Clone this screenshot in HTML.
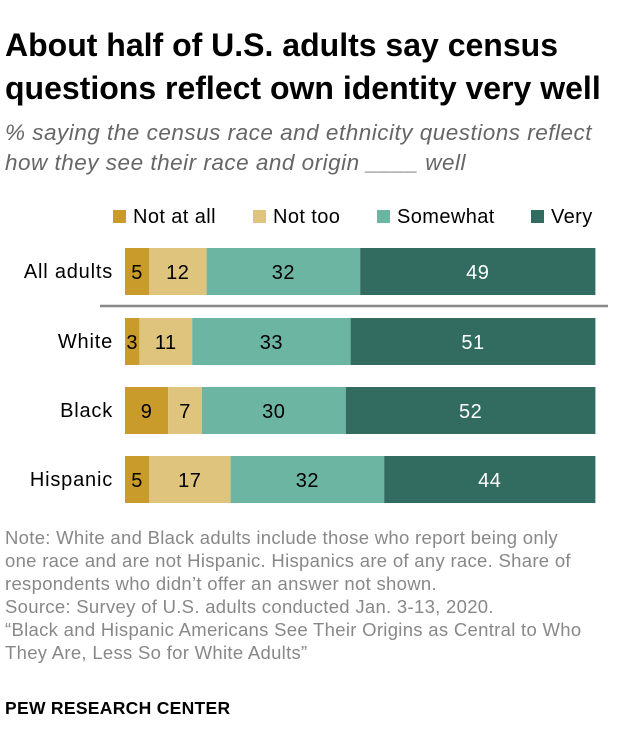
<!DOCTYPE html>
<html><head><meta charset="utf-8"><style>
body{margin:0;background:#fff;width:620px;height:756px;overflow:hidden;font-family:"Liberation Sans",sans-serif;position:relative}
.t{position:absolute;white-space:nowrap}
</style></head><body>
<div class="t" style="left:5px;top:24px;font-size:32px;font-weight:bold;line-height:43px;color:#000;letter-spacing:0px">About half of U.S. adults say census<br>questions reflect own identity very well</div>
<div class="t" style="left:5px;top:118px;font-size:22.5px;font-style:italic;line-height:30px;color:#666;letter-spacing:0.5px">% saying the census race and ethnicity questions reflect<br>how they see their race and origin ____ well</div>
<svg id="c" width="620" height="520" style="position:absolute;left:0;top:195px"></svg>
<div class="t" style="left:5px;top:526px;font-size:18.5px;letter-spacing:0.3px;line-height:23px;color:#888">Note: White and Black adults include those who report being only<br>one race and are not Hispanic. Hispanics are of any race. Share of<br>respondents who didn’t offer an answer not shown.<br>Source: Survey of U.S. adults conducted Jan. 3-13, 2020.<br>“Black and Hispanic Americans See Their Origins as Central to Who<br>They Are, Less So for White Adults”</div>
<div class="t" style="left:5px;top:698px;font-size:17.5px;letter-spacing:0.3px;font-weight:bold;color:#000">PEW RESEARCH CENTER</div>
<script>
const categories=["All adults","White","Black","Hispanic"];
const seriesNames=["Not at all","Not too","Somewhat","Very"];
const notAtAll=[5,3,9,5];
const notToo=[12,11,7,17];
const somewhat=[32,33,30,32];
const very=[49,51,52,44];
const colors=["#c99b2a","#dfc47d","#6bb5a2","#326b5f"];
const series=[notAtAll,notToo,somewhat,very];
const NS="http://www.w3.org/2000/svg";
const svg=document.getElementById('c');
const x0=125,k=4.8;
const xs=v=>v*k;
const rowY=[53,123,192,261];
function mk(t,a){const e=document.createElementNS(NS,t);for(const q in a)e.setAttribute(q,a[q]);svg.appendChild(e);return e;}
const legX=[113,253,377,531];
seriesNames.forEach((n,i)=>{
 const r=mk('rect',{x:legX[i],y:15,width:13,height:13,fill:colors[i]});
 
 
 const t=mk('text',{x:legX[i]+20,y:28,'font-size':20,'letter-spacing':0.4,fill:'#000'});t.textContent=n;
 
 
});
categories.forEach((c,r)=>{
 const y=rowY[r];
 const l=mk('text',{x:113,y:y+30,'font-size':20,'letter-spacing':0.8,'text-anchor':'end',fill:'#000'});l.textContent=c;
 
 
 let cx=x0;
 series.forEach((s,i)=>{
  const w=xs(s[r]);
  const b=mk('rect',{x:cx,y:y,width:w,height:47,fill:colors[i]});
  
  
  const t=mk('text',{x:cx+w/2,y:y+31,'font-size':20,'letter-spacing':0.5,'text-anchor':'middle',fill:i==3?'#fff':'#000'});t.textContent=s[r];
  
  
  cx+=w;
 });
});
const sep=mk('line',{x1:100,x2:608,y1:111,y2:111,stroke:'#888','stroke-width':2.5});


</script>
</body></html>
